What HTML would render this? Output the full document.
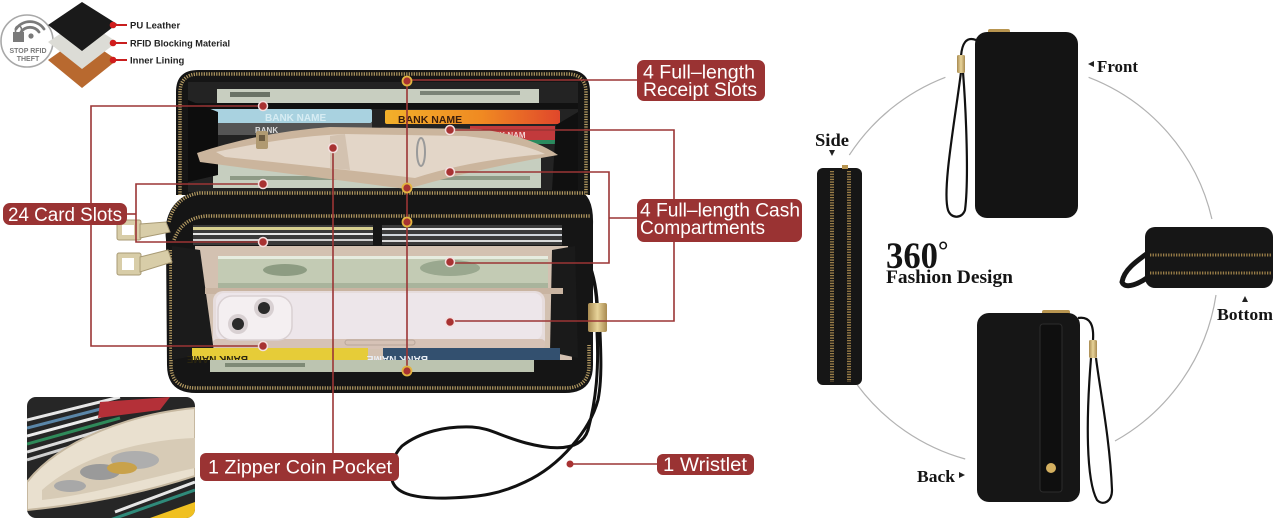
<!DOCTYPE html>
<html><head><meta charset="utf-8"><style>
html,body{margin:0;padding:0;background:#fff;}
svg{display:block;}
.lab{font-family:"Liberation Sans",Arial,sans-serif;fill:#fff;font-size:19px;}
.ser{font-family:"Liberation Serif","Times New Roman",serif;font-weight:bold;fill:#141414;}
.sm{font-family:"Liberation Sans",Arial,sans-serif;font-weight:bold;}
</style></head><body>
<svg width="1280" height="525" viewBox="0 0 1280 525" xmlns="http://www.w3.org/2000/svg">
<defs>
<linearGradient id="org" x1="0" x2="1"><stop offset="0" stop-color="#f2b02a"/><stop offset="0.55" stop-color="#f08a22"/><stop offset="1" stop-color="#e0472b"/></linearGradient>
<linearGradient id="gold" x1="0" x2="1"><stop offset="0" stop-color="#a88a50"/><stop offset="0.5" stop-color="#e8d49a"/><stop offset="1" stop-color="#a88a50"/></linearGradient>
<clipPath id="insclip"><rect x="27" y="397" width="168" height="121" rx="9"/></clipPath>
</defs>
<rect width="1280" height="525" fill="#fff"/>

<!-- RFID icon -->
<circle cx="27" cy="41" r="26" fill="#fff" stroke="#a8a8a8" stroke-width="1.6"/>
<g fill="none" stroke="#7a7a7a" stroke-width="2.8" stroke-linecap="round">
 <path d="M16,29 A17,17 0 0 1 44,29"/>
 <path d="M21,32 A11,11 0 0 1 39,32"/>
</g>
<circle cx="31" cy="36" r="2.6" fill="#7a7a7a"/>
<rect x="13" y="32" width="11" height="10" fill="#7a7a7a"/>
<path d="M15.5,32 v-3 a3,3 0 0 1 6,0 v3" fill="none" stroke="#7a7a7a" stroke-width="1.6"/>
<text x="28" y="53" class="sm" font-size="7" fill="#7a7a7a" text-anchor="middle">STOP RFID</text>
<text x="28" y="61" class="sm" font-size="7" fill="#7a7a7a" text-anchor="middle">THEFT</text>

<!-- layers -->
<polygon points="82,36 117,60 82,88 48,60" fill="#b8692f"/>
<polygon points="82,19 117,42 82,69 48,42" fill="#dcdcd6"/>
<polygon points="82,2 117,24 82,51 48,25" fill="#1a1a1a"/>
<g stroke="#c81e1e" stroke-width="2">
<line x1="113" y1="25" x2="127" y2="25"/><line x1="113" y1="43" x2="127" y2="43"/><line x1="113" y1="60" x2="127" y2="60"/>
</g>
<circle cx="113" cy="25" r="3.3" fill="#d01c1c"/><circle cx="113" cy="43" r="3.3" fill="#d01c1c"/><circle cx="113" cy="60" r="3.3" fill="#d01c1c"/>
<text x="130" y="28.5" class="sm" font-size="9.5" fill="#222">PU Leather</text>
<text x="130" y="46.5" class="sm" font-size="9.5" fill="#222" textLength="100" lengthAdjust="spacingAndGlyphs">RFID Blocking Material</text>
<text x="130" y="63.5" class="sm" font-size="9.5" fill="#222">Inner Lining</text>

<!-- ===== main wallet ===== -->
<path d="M584,252 C592,268 596,285 597,304" fill="none" stroke="#111" stroke-width="3.5"/>
<!-- upper section -->
<path d="M176,195 L176,92 Q176,70 198,70 L568,70 Q590,70 590,92 L590,195 Z" fill="#151515"/>
<path d="M180,195 L180,93 Q180,74 199,74 L567,74 Q586,74 586,93 L586,195" fill="none" stroke="#b39a62" stroke-width="3.5" stroke-dasharray="1.2 1.3"/>
<rect x="188" y="82" width="390" height="110" fill="#232323"/>
<rect x="217" y="89" width="322" height="14" fill="#c8cec0"/>
<rect x="230" y="92" width="40" height="5" fill="#6a7266"/>
<rect x="420" y="91" width="100" height="4" fill="#7a8276"/>
<rect x="188" y="103" width="390" height="6" fill="#111"/>
<rect x="197" y="109" width="175" height="14" rx="2" fill="#a9d2e0"/>
<text x="265" y="121" class="sm" font-size="10" fill="#d6ecf3">BANK NAME</text>
<rect x="385" y="110" width="175" height="14" rx="2" fill="url(#org)"/>
<text x="398" y="123" class="sm" font-size="10.5" fill="#3a1d0c">BANK NAME</text>
<rect x="217" y="123" width="155" height="12" fill="#555"/>
<text x="255" y="133" class="sm" font-size="8" fill="#ddd">BANK</text>
<rect x="470" y="126" width="85" height="16" fill="#c23a3c"/>
<text x="482" y="138" class="sm" font-size="8" fill="#f3d0d0">BANK NAM</text>
<rect x="520" y="140" width="35" height="4" fill="#2b8a5e"/>
<rect x="213" y="148" width="328" height="40" fill="#c6cebf"/>
<rect x="230" y="176" width="300" height="4" fill="#8e9a86"/>
<polygon points="188,100 218,112 218,175 188,182" fill="#0d0d0d"/>
<polygon points="556,125 578,112 578,190 552,190" fill="#101010"/>
<!-- coin pocket -->
<path d="M197,153 Q260,132 330,127 L480,129 Q530,136 558,155 Q480,168 407,189 Q320,178 200,162 Z" fill="#cbb59d"/>
<path d="M216,152 Q290,136 345,134 L465,136 Q520,142 545,154 Q470,160 415,178 Q330,168 225,157 Z" fill="#e3d6c8"/>
<path d="M330,136 L345,134 L350,170 L330,168 Z" fill="#d3c2b0"/>
<ellipse cx="421" cy="152" rx="4" ry="14" fill="none" stroke="#9a9a9a" stroke-width="2"/>
<rect x="256" y="131" width="12" height="18" rx="2" fill="#b09a72"/>
<rect x="259" y="135" width="6" height="6" fill="#6a5a40"/>

<!-- lower section -->
<path d="M166,240 Q162,205 192,192 L578,190 Q594,195 593,225 L593,365 Q593,393 565,393 L196,393 Q167,393 167,365 Z" fill="#151515"/>
<path d="M169,222 Q175,196 200,193 L585,193" fill="none" stroke="#b39a62" stroke-width="3.5" stroke-dasharray="1.2 1.3"/>
<path d="M174,240 Q182,218 206,216 L590,216" fill="none" stroke="#b39a62" stroke-width="3.5" stroke-dasharray="1.2 1.3"/>
<path d="M171,250 L171,365 Q171,388 196,388 L565,388 Q589,388 589,365 L589,345" fill="none" stroke="#b39a62" stroke-width="3.5" stroke-dasharray="1.2 1.3"/>
<!-- middle cards -->
<rect x="193" y="225" width="180" height="20" fill="#3a3a3a"/>
<rect x="193" y="227" width="180" height="3" fill="#d8d090"/>
<rect x="193" y="233" width="180" height="2" fill="#e6e6e6"/>
<rect x="193" y="239" width="180" height="2" fill="#d0d0d0"/>
<rect x="382" y="225" width="180" height="20" fill="#3a3a3a"/>
<rect x="382" y="228" width="180" height="2" fill="#e8e8e8"/>
<rect x="382" y="234" width="180" height="2" fill="#cfd4da"/>
<rect x="382" y="240" width="180" height="2" fill="#d8d8d8"/>
<!-- beige interior -->
<polygon points="195,246 568,246 572,360 195,360" fill="#d3c1b1"/>
<polygon points="172,246 200,250 214,352 172,360" fill="#1b1b1b"/>
<polygon points="552,250 575,246 578,358 550,352" fill="#1a1a1a"/>
<rect x="218" y="256" width="330" height="29" fill="#c3cbb4"/>
<rect x="218" y="256" width="330" height="3" fill="#e6ece0"/>
<ellipse cx="285" cy="270" rx="22" ry="6" fill="#8d9c82"/>
<ellipse cx="450" cy="268" rx="30" ry="8" fill="#9aa88f"/>
<rect x="218" y="283" width="330" height="8" fill="#a9b49c"/>
<rect x="205" y="288" width="358" height="6" fill="#c9b4a1"/>
<!-- phone -->
<rect x="213" y="291" width="332" height="58" rx="10" fill="#e6dcdc"/>
<rect x="216" y="293" width="326" height="47" rx="8" fill="#ede6ea"/>
<rect x="213" y="339" width="332" height="10" rx="4" fill="#d6c2b6"/>
<rect x="345" y="340" width="70" height="5" rx="2.5" fill="none" stroke="#b8a69a" stroke-width="1"/>
<rect x="218" y="296" width="74" height="44" rx="14" fill="#f4eff1" stroke="#d9d0d2" stroke-width="1.5"/>
<circle cx="238" cy="324" r="10" fill="#d8d0d2"/><circle cx="238" cy="324" r="6" fill="#2a2a2a"/>
<circle cx="264" cy="308" r="10" fill="#d8d0d2"/><circle cx="264" cy="308" r="6" fill="#2a2a2a"/>
<!-- bottom cards -->
<rect x="192" y="348" width="176" height="12" fill="#e6cc38"/>
<text x="352" y="352" class="sm" font-size="10" fill="#2a2510" transform="rotate(180 300 354)">BANK NAME</text>
<rect x="383" y="348" width="177" height="12" fill="#33506f"/>
<text x="548" y="352" class="sm" font-size="10" fill="#e8eef5" transform="rotate(180 488 354)">BANK NAME</text>
<rect x="210" y="360" width="324" height="12" fill="#bcc4b0"/>
<rect x="225" y="363" width="80" height="4" fill="#7e8a76"/>
<!-- zipper pulls -->
<g fill="#d8cda8" stroke="#a89a74" stroke-width="1">
<rect x="117" y="220" width="24" height="20" rx="2"/>
<polygon points="140,224 166,222 170,232 140,238"/>
<rect x="117" y="253" width="24" height="22" rx="2"/>
<polygon points="140,257 168,250 172,262 140,272"/>
</g>
<rect x="122" y="225" width="12" height="10" fill="#fff"/>
<rect x="122" y="258" width="12" height="12" fill="#fff"/>
<!-- clasp -->
<rect x="588" y="303" width="19" height="29" rx="2" fill="url(#gold)"/>
<!-- strap loop -->
<path d="M597,332 C599,370 596,400 588,430 C580,455 545,448 526,443 C500,436 490,428 472,427 C445,426 420,432 402,446 C392,456 390,470 392,480 C395,492 410,499 449,498 C480,497 500,494 525,482 C560,466 590,430 598,400 C602,380 601,355 600,332" fill="none" stroke="#111" stroke-width="3"/>

<!-- ===== callout lines ===== -->
<g fill="none" stroke="#9b3535" stroke-width="1.6">
<path d="M407,80 H637"/>
<path d="M407,81 V371"/>
<path d="M450,130 H674 V321 H450"/>
<path d="M450,172 H609 V263 H450"/>
<path d="M609,218 H637"/>
<path d="M263,106 H91 V346 H263"/>
<path d="M263,184 H136 V242 H263"/>
<path d="M127,214 H136"/>
<path d="M333,148 V453"/>
<path d="M569,464 H657"/>
</g>
<g fill="#a83232" stroke="#f3dede" stroke-width="1.5">
<circle cx="263" cy="106" r="4.5"/><circle cx="263" cy="184" r="4.5"/><circle cx="263" cy="242" r="4.5"/><circle cx="263" cy="346" r="4.5"/>
<circle cx="450" cy="130" r="4.5"/><circle cx="450" cy="172" r="4.5"/><circle cx="450" cy="262" r="4.5"/><circle cx="450" cy="322" r="4.5"/>
<circle cx="333" cy="148" r="4.5"/>
</g>
<g fill="#a83232" stroke="#e2b440" stroke-width="1.8">
<circle cx="407" cy="81" r="4.5"/><circle cx="407" cy="188" r="4.5"/><circle cx="407" cy="222" r="4.5"/><circle cx="407" cy="371" r="4.5"/>
</g>
<circle cx="570" cy="464" r="3.5" fill="#a83232"/>

<!-- labels -->
<rect x="637" y="60" width="128" height="41" rx="7" fill="#9a3333"/>
<text x="643" y="78.5" class="lab" textLength="112" lengthAdjust="spacingAndGlyphs">4 Full–length</text>
<text x="643" y="96" class="lab" textLength="114" lengthAdjust="spacingAndGlyphs">Receipt Slots</text>
<rect x="637" y="199" width="165" height="43" rx="7" fill="#9a3333"/>
<text x="640" y="216.5" class="lab" textLength="160" lengthAdjust="spacingAndGlyphs">4 Full–length Cash</text>
<text x="640" y="234" class="lab" textLength="125" lengthAdjust="spacingAndGlyphs">Compartments</text>
<rect x="3" y="203" width="124" height="22" rx="7" fill="#9a3333"/>
<text x="8" y="221" class="lab" textLength="114" lengthAdjust="spacingAndGlyphs">24 Card Slots</text>
<rect x="200" y="453" width="199" height="28" rx="6" fill="#9a3333"/>
<text x="208" y="473.5" class="lab" textLength="184" lengthAdjust="spacingAndGlyphs">1 Zipper Coin Pocket</text>
<rect x="657" y="454" width="97" height="21" rx="6" fill="#9a3333"/>
<text x="663" y="471" class="lab" textLength="84" lengthAdjust="spacingAndGlyphs">1 Wristlet</text>

<!-- inset photo -->
<g clip-path="url(#insclip)">
<rect x="27" y="397" width="168" height="121" fill="#262626"/>
<g stroke-width="3">
<line x1="27" y1="420" x2="120" y2="397" stroke="#e6e6e6"/>
<line x1="27" y1="428" x2="120" y2="404" stroke="#5a86a8"/>
<line x1="27" y1="436" x2="120" y2="411" stroke="#ececec"/>
<line x1="27" y1="444" x2="120" y2="418" stroke="#2f8a5a"/>
<line x1="27" y1="452" x2="120" y2="425" stroke="#dcdcdc"/>
<line x1="27" y1="460" x2="120" y2="432" stroke="#cfcfcf"/>
<line x1="110" y1="520" x2="195" y2="490" stroke="#2f8a7a"/>
<line x1="115" y1="512" x2="195" y2="482" stroke="#e6e6e6"/>
</g>
<polygon points="100,402 170,397 160,410 98,418" fill="#b43038"/>
<polygon points="150,518 195,502 195,518" fill="#f0c020"/>
<path d="M27,482 C60,440 130,414 195,408 L195,476 C140,494 80,505 27,510 Z" fill="#e9e0cf" stroke="#c6b8a0" stroke-width="2"/>
<path d="M42,490 C80,456 140,440 195,438 L195,468 C140,480 90,495 42,500 Z" fill="#d7cbb6"/>
<ellipse cx="135" cy="460" rx="24" ry="9" fill="#aeaeae"/>
<ellipse cx="100" cy="472" rx="20" ry="8" fill="#9a9a9a"/>
<ellipse cx="122" cy="468" rx="15" ry="6" fill="#c9a24a"/>
<ellipse cx="70" cy="486" rx="16" ry="6" fill="#a8a8a8"/>
</g>

<!-- ===== right side 360 ===== -->
<g fill="none" stroke="#b2b2b2" stroke-width="1.2">
<path d="M945.4,77.3 A200,200 0 0 0 849.3,155.1"/>
<path d="M1088.6,77.3 A200,200 0 0 1 1211.9,219"/>
<path d="M1216,295 A202,202 0 0 1 1115,441"/>
<path d="M965.2,459 A202,202 0 0 1 857.3,385"/>
</g>
<!-- front -->
<rect x="988" y="29" width="22" height="5" rx="2" fill="#b89550"/>
<rect x="975" y="32" width="103" height="186" rx="12" fill="#141414"/>
<path d="M976,40 C966,36 962,44 961,56" fill="none" stroke="#111" stroke-width="2.2"/>
<path d="M961,72 C955,120 942,190 948,210 C951,219 962,219 965,210 C969,180 966,110 963,72" fill="none" stroke="#111" stroke-width="2.2"/>
<rect x="957" y="55" width="8" height="18" rx="1.5" fill="url(#gold)"/>
<polygon points="1088,64 1094,61 1094,67" fill="#222"/>
<text x="1097" y="72" class="ser" font-size="17" textLength="41" lengthAdjust="spacingAndGlyphs">Front</text>
<!-- side -->
<text x="815" y="146" class="ser" font-size="18" textLength="34" lengthAdjust="spacingAndGlyphs">Side</text>
<polygon points="829,150 835,150 832,156" fill="#222"/>
<rect x="817" y="168" width="45" height="217" rx="6" fill="#161616"/>
<line x1="832" y1="171" x2="832" y2="382" stroke="#9a7e48" stroke-width="4" stroke-dasharray="1.3 1.3"/>
<line x1="849" y1="171" x2="849" y2="382" stroke="#9a7e48" stroke-width="4" stroke-dasharray="1.3 1.3"/>
<rect x="842" y="165" width="6" height="4" fill="#b89550"/>
<!-- 360 -->
<text x="886" y="268" class="ser" font-size="37" textLength="52" lengthAdjust="spacingAndGlyphs">360</text>
<text x="938" y="259" class="ser" font-size="26">°</text>
<text x="886" y="283" class="ser" font-size="19" textLength="127" lengthAdjust="spacingAndGlyphs">Fashion Design</text>
<!-- bottom view -->
<path d="M1152,250 C1135,262 1124,270 1122,282 C1125,290 1140,284 1152,274" fill="none" stroke="#151515" stroke-width="5"/>
<rect x="1145" y="227" width="128" height="61" rx="10" fill="#161616"/>
<line x1="1150" y1="255" x2="1272" y2="255" stroke="#9a7e48" stroke-width="3" stroke-dasharray="1.3 1.3"/>
<line x1="1150" y1="273" x2="1272" y2="273" stroke="#9a7e48" stroke-width="3" stroke-dasharray="1.3 1.3"/>
<polygon points="1242,302 1248,302 1245,296" fill="#222"/>
<text x="1217" y="320" class="ser" font-size="17" textLength="56" lengthAdjust="spacingAndGlyphs">Bottom</text>
<!-- back -->
<rect x="1042" y="310" width="28" height="5" rx="2" fill="#b89550"/>
<rect x="977" y="313" width="103" height="189" rx="12" fill="#161616"/>
<rect x="1040" y="324" width="22" height="168" rx="3" fill="#0f0f0f" stroke="#2c2c2c" stroke-width="1"/>
<circle cx="1051" cy="468" r="5" fill="#d4b060"/>
<path d="M1078,318 C1090,316 1094,325 1093,340" fill="none" stroke="#111" stroke-width="2.2"/>
<path d="M1091,358 C1086,420 1086,480 1097,500 C1103,506 1112,502 1112,490 C1110,440 1100,390 1096,358" fill="none" stroke="#111" stroke-width="2.2"/>
<rect x="1089" y="340" width="8" height="18" rx="1.5" fill="url(#gold)"/>
<text x="917" y="482" class="ser" font-size="17" textLength="38" lengthAdjust="spacingAndGlyphs">Back</text>
<polygon points="959,472 959,478 965,475" fill="#222"/>
</svg>
</body></html>
